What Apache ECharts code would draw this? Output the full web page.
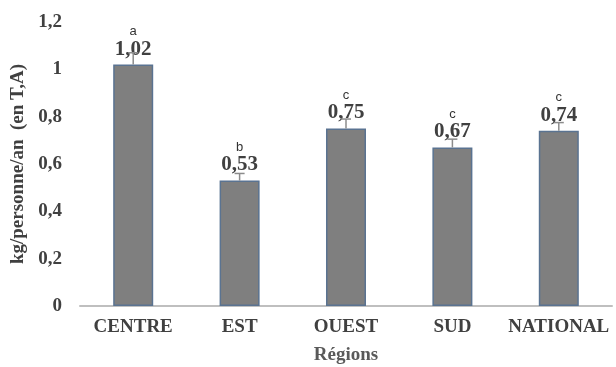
<!DOCTYPE html>
<html style="height: 100%">
<head>
    <meta charset="UTF-8" />
    <title>Régions</title>
    <script src="https://cdn.jsdelivr.net/npm/echarts@6/dist/echarts.min.js"></script>
</head>
<body style="height: 100%; margin: 0; background: #fff">
    <div id="main" style="width: 616px; height: 367px; margin: 0"></div>
    <script type="text/javascript">
        var regions = ['CENTRE', 'EST', 'OUEST', 'SUD', 'NATIONAL'];
        var values = [1.02, 0.53, 0.75, 0.67, 0.74];
        var errors = [0.05, 0.03, 0.04, 0.035, 0.035];
        var letters = ['a', 'b', 'c', 'c', 'c'];

        var chart = echarts.init(document.getElementById('main'));
        var serif = '"Liberation Serif", "Times New Roman", serif';

        var option = {
            animation: false,
            grid: { left: 80, right: 4, top: 22, bottom: 61, outerBoundsMode: 'none' },
            xAxis: {
                type: 'category',
                data: regions,
                name: 'Régions',
                nameLocation: 'middle',
                nameGap: 40,
                nameTextStyle: { fontFamily: serif, fontWeight: 'bold', fontSize: 19, color: '#595959' },
                axisTick: { show: false },
                axisLine: { lineStyle: { color: '#bfbfbf', width: 2 } },
                axisLabel: { interval: 0, fontFamily: serif, fontWeight: 'bold', fontSize: 19, color: '#404040', margin: 12 }
            },
            yAxis: {
                type: 'value',
                min: 0,
                max: 1.2,
                interval: 0.2,
                name: 'kg/personne/an  (en T,A)',
                nameLocation: 'middle',
                nameGap: 49,
                nameTextStyle: { fontFamily: serif, fontWeight: 'bold', fontSize: 19, color: '#404040' },
                splitLine: { show: false },
                axisLine: { show: false },
                axisLabel: {
                    fontFamily: serif, fontWeight: 'bold', fontSize: 19, color: '#404040', margin: 18,
                    formatter: function (v) { return String(Math.round(v * 10) / 10).replace('.', ','); }
                }
            },
            series: [
                {
                    type: 'bar',
                    data: values,
                    barWidth: '37.6%',
                    itemStyle: { color: '#7f7f7f', borderColor: '#5a7391', borderWidth: 1.5 },
                    label: {
                        show: true,
                        position: 'top',
                        distance: 5,
                        formatter: function (p) {
                            return '{l|' + letters[p.dataIndex] + '}\n{v|' + String(p.value).replace('.', ',') + '}';
                        },
                        rich: {
                            l: { fontFamily: 'Liberation Sans, Arial, sans-serif', fontSize: 13, color: '#333', lineHeight: 14, align: 'center' },
                            v: { fontFamily: serif, fontWeight: 'bold', fontSize: 21, color: '#404040', lineHeight: 21, align: 'center' }
                        }
                    },
                    z: 2
                },
                {
                    type: 'custom',
                    data: values.map(function (v, i) { return [i, v, errors[i]]; }),
                    renderItem: function (params, api) {
                        var x = api.coord([api.value(0), 0])[0];
                        var y0 = api.coord([api.value(0), api.value(1)])[1];
                        var y1 = api.coord([api.value(0), api.value(1) + api.value(2)])[1];
                        var style = { stroke: '#8c8c8c', lineWidth: 1.5 };
                        return {
                            type: 'group',
                            children: [
                                { type: 'line', shape: { x1: x, y1: y0, x2: x, y2: y1 }, style: style },
                                { type: 'line', shape: { x1: x - 5, y1: y1, x2: x + 5, y2: y1 }, style: style }
                            ]
                        };
                    },
                    z: 3
                }
            ]
        };
        chart.setOption(option);
    </script>
</body>
</html>
